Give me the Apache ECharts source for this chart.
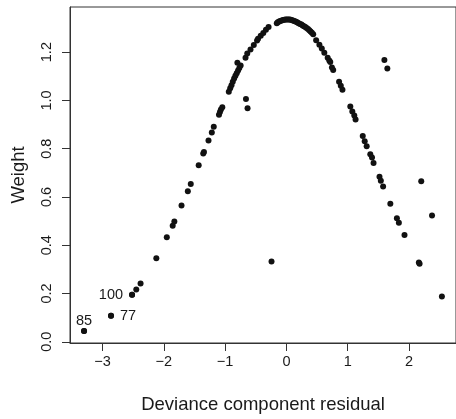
<!DOCTYPE html>
<html>
<head>
<meta charset="utf-8">
<script src="https://cdn.jsdelivr.net/npm/echarts@6/dist/echarts.min.js"></script>
<style>html,body{margin:0;padding:0;background:#fff}#c{width:456px;height:419px}</style>
</head>
<body>
<div id="c"></div>
<script>
// Deviance component residual (x) and weight (y)
const resid = [
  -3.301, -2.861, -2.518, -2.449, -2.379, -2.122, -1.951, -1.855, -1.828, -1.711,
  -1.608, -1.560, -1.431, -1.357, -1.345, -1.271, -1.217, -1.185, -1.100, -1.084,
  -1.068, -1.046, -0.940, -0.917, -0.896, -0.875, -0.853, -0.832, -0.811, -0.789,
  -0.768, -0.747, -0.800, -0.667, -0.639, -0.586, -0.532, -0.479, -0.463, -0.419,
  -0.377, -0.334, -0.291, -0.660, -0.634, -0.243,
  -0.157, -0.120, -0.077, -0.034, 0.008, 0.051, 0.095, 0.137, 0.180, 0.223,
  0.265, 0.308, 0.352, 0.394, 0.437, -0.140, -0.100, -0.055, -0.012, 0.030,
  0.072, 0.116, 0.158, 0.200, 0.245, 0.287, 0.330, 0.373, 0.415,
  0.485, 0.538, 0.577, 0.618, 0.673, 0.699, 0.715, 0.742, 0.763,
  0.859, 0.887, 0.914, 1.042, 1.075, 1.107, 1.128, 1.245, 1.277, 1.309,
  1.368, 1.396, 1.421, 1.518, 1.540, 1.577, 1.695, 1.802, 1.834, 1.926,
  2.160, 2.172, 1.598, 1.646, 2.199, 2.375, 2.536
];
const weight = [
  0.045, 0.108, 0.195, 0.217, 0.242, 0.346, 0.433, 0.481, 0.498, 0.565,
  0.624, 0.654, 0.731, 0.780, 0.786, 0.834, 0.867, 0.891, 0.941, 0.952,
  0.962, 0.972, 1.036, 1.050, 1.063, 1.077, 1.091, 1.102, 1.113, 1.124,
  1.134, 1.145, 1.156, 1.177, 1.194, 1.211, 1.230, 1.248, 1.255, 1.268,
  1.279, 1.293, 1.304, 1.006, 0.968, 0.333,
  1.320, 1.327, 1.331, 1.334, 1.335, 1.335, 1.332, 1.328, 1.323, 1.317,
  1.310, 1.304, 1.296, 1.285, 1.274, 1.324, 1.329, 1.333, 1.335, 1.335,
  1.334, 1.330, 1.326, 1.320, 1.314, 1.307, 1.300, 1.291, 1.280,
  1.249, 1.231, 1.215, 1.197, 1.177, 1.165, 1.159, 1.136, 1.126,
  1.077, 1.061, 1.044, 0.975, 0.954, 0.938, 0.921, 0.853, 0.831, 0.810,
  0.777, 0.763, 0.741, 0.684, 0.667, 0.643, 0.572, 0.512, 0.493, 0.442,
  0.328, 0.323, 1.167, 1.132, 0.665, 0.523, 0.188
];
// Labelled observations
const labelNames = ['85', '77', '100'];
const labelX = [-3.301, -2.861, -2.518];
const labelY = [0.045, 0.108, 0.195];
const labelPos = ['top', 'right', 'left'];
// Axis ticks
const xTicks = [-3, -2, -1, 0, 1, 2];
const xTickLabels = ['\u22123', '\u22122', '\u22121', '0', '1', '2'];
const yTicks = [0, 0.2, 0.4, 0.6, 0.8, 1.0, 1.2];
const yTickLabels = ['0.0', '0.2', '0.4', '0.6', '0.8', '1.0', '1.2'];
const xTitle = 'Deviance component residual';
const yTitle = 'Weight';

const FONT = "'Liberation Sans', Arial, sans-serif";
const INK = '#1a1a1a';
const chart = echarts.init(document.getElementById('c'), null, {renderer: 'canvas'});
const pts = resid.map((x, i) => [x, weight[i]]);
const labPts = labelX.map((x, i) => ({
  value: [x, labelY[i]],
  label: {show: true, formatter: labelNames[i], position: labelPos[i], distance: labelPos[i] === 'top' ? -1 : 6}
}));
chart.setOption({
  animation: false,
  backgroundColor: '#fff',
  grid: {left: 70, top: 7, right: -6, bottom: 72, show: true, borderColor: '#333', borderWidth: 1, backgroundColor: 'transparent'},
  xAxis: {
    type: 'value', min: -3.530, max: 2.766,
    name: xTitle, nameLocation: 'middle', nameGap: 52,
    nameTextStyle: {fontFamily: FONT, fontSize: 18.5, color: INK},
    axisLine: {show: true, onZero: false, lineStyle: {color: '#333'}},
    splitLine: {show: false},
    axisTick: {show: true, length: 8, inside: false, customValues: xTicks, lineStyle: {color: '#333'}},
    axisLabel: {
      customValues: xTicks, margin: 11, fontFamily: FONT, fontSize: 14.5, color: INK,
      formatter: v => xTickLabels[xTicks.findIndex(t => Math.abs(t - v) < 1e-9)]
    }
  },
  yAxis: {
    type: 'value', min: -0.005, max: 1.387,
    name: yTitle, nameLocation: 'middle', nameGap: 42,
    nameTextStyle: {fontFamily: FONT, fontSize: 18.5, color: INK},
    axisLine: {show: true, onZero: false, lineStyle: {color: '#333'}},
    splitLine: {show: false},
    axisTick: {show: true, length: 8, inside: false, customValues: yTicks, lineStyle: {color: '#333'}},
    axisLabel: {
      customValues: yTicks, margin: 16, rotate: 90, fontFamily: FONT, fontSize: 14.5, color: INK,
      formatter: v => yTickLabels[yTicks.findIndex(t => Math.abs(t - v) < 1e-9)]
    }
  },
  series: [
    {type: 'scatter', data: pts, symbol: 'circle', symbolSize: 6, itemStyle: {color: '#111', opacity: 1}, silent: true},
    {type: 'scatter', data: labPts, symbol: 'circle', symbolSize: 6, itemStyle: {color: '#111', opacity: 1}, silent: true,
     label: {fontFamily: FONT, fontSize: 14.5, color: INK}}
  ]
});
</script>
</body>
</html>
